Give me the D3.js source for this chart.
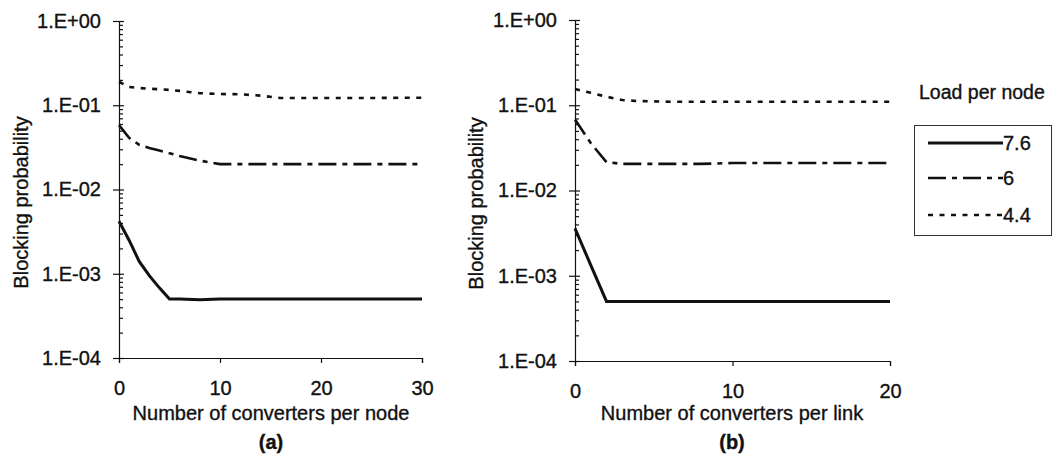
<!DOCTYPE html>
<html>
<head>
<meta charset="utf-8">
<script src="https://cdn.jsdelivr.net/npm/d3@7"></script>
<style>
  body { margin: 0; background: #fff; }
  text { font-family: "Liberation Sans", Arial, sans-serif; fill: #111; stroke: #111; stroke-width: 0.35px; }
</style>
</head>
<body>
<div id="app"></div>
<script>
// panel (a): converters per node
const xA = [0, 1, 2, 3, 4, 5, 6, 8, 10, 12, 14, 16, 18, 20, 25, 30];
const a76 = [0.0042, 0.0025, 0.0014, 0.00095, 0.00068, 0.0005, 0.0005, 0.00049, 0.0005, 0.0005, 0.0005, 0.0005, 0.0005, 0.0005, 0.0005, 0.0005];
const a60 = [0.058, 0.041, 0.034, 0.031, 0.029, 0.027, 0.025, 0.022, 0.020, 0.020, 0.020, 0.020, 0.020, 0.020, 0.020, 0.020];
const a44 = [0.19, 0.165, 0.16, 0.157, 0.155, 0.152, 0.148, 0.139, 0.136, 0.135, 0.13, 0.122, 0.122, 0.122, 0.122, 0.123];

// panel (b): converters per link
const xB = [0, 1, 2, 3, 4, 5, 6, 8, 10, 12, 14, 16, 18, 20];
const b76 = [0.0036, 0.00133, 0.0005, 0.0005, 0.0005, 0.0005, 0.0005, 0.0005, 0.0005, 0.0005, 0.0005, 0.0005, 0.0005, 0.0005];
const b60 = [0.068, 0.036, 0.0215, 0.0205, 0.0205, 0.0205, 0.0205, 0.0205, 0.021, 0.021, 0.021, 0.021, 0.021, 0.021];
const b44 = [0.155, 0.14, 0.126, 0.115, 0.112, 0.111, 0.11, 0.11, 0.11, 0.11, 0.11, 0.11, 0.11, 0.11];

const yTicks = [1, 0.1, 0.01, 0.001, 0.0001];
const loads = ["7.6", "6", "4.4"];
const dashes = [null, "18,6,5,6", "5,6.5"];

const svg = d3.select('#app').append('svg')
  .attr('width', 1054)
  .attr('height', 454);

function panel(box, xs, series, xMax, xTicks, xTitle, tag) {
  const x = d3.scaleLinear().domain([0, xMax]).range([box.left, box.right]);
  const y = d3.scaleLog().domain([1e-4, 1]).range([box.bottom, box.top]);
  const g = svg.append('g');

  // minor log ticks on the inside of the axis
  const minor = [];
  for (let e = -4; e < 0; e++) {
    for (let m = 2; m <= 9; m++) minor.push(m * Math.pow(10, e));
  }
  g.append('g')
    .attr('transform', `translate(${box.left},0)`)
    .call(d3.axisRight(y).tickValues(minor).tickSize(4).tickFormat(''))
    .call(s => s.select('.domain').remove());
  g.append('g')
    .attr('transform', `translate(${box.left},0)`)
    .call(d3.axisRight(y).tickValues(yTicks).tickSize(5).tickFormat(''))
    .call(s => s.select('.domain').remove());

  const yAxis = g.append('g')
    .attr('transform', `translate(${box.left},0)`)
    .call(d3.axisLeft(y).tickValues(yTicks).tickSize(6).tickPadding(12)
      .tickFormat(d => '1.E' + (d >= 1 ? '+00' : '-0' + Math.round(-Math.log10(d)))));
  yAxis.selectAll('text').attr('font-size', 20);

  const xAxis = g.append('g')
    .attr('transform', `translate(0,${box.bottom})`)
    .call(d3.axisBottom(x).tickValues(xTicks).tickSize(5).tickPadding(18).tickFormat(d3.format('d')));
  xAxis.selectAll('text').attr('font-size', 20);

  g.selectAll('.domain, .tick line').attr('stroke', '#111').attr('stroke-width', 1.2);

  const line = d3.line().x(d => x(d[0])).y(d => y(d[1]));
  series.forEach((vals, i) => {
    g.append('path')
      .datum(xs.map((v, k) => [v, vals[k]]))
      .attr('d', line)
      .attr('fill', 'none')
      .attr('stroke', '#111')
      .attr('stroke-width', i === 0 ? 3 : 2.6)
      .attr('stroke-dasharray', dashes[i]);
  });

  g.append('text')
    .attr('transform', `translate(${box.titleX},${(box.top + box.bottom) / 2 + 13}) rotate(-90)`)
    .attr('text-anchor', 'middle')
    .attr('font-size', 20)
    .text('Blocking probability');

  g.append('text')
    .attr('x', box.xTitleC)
    .attr('y', 420)
    .attr('text-anchor', 'middle')
    .attr('font-size', 20)
    .text(xTitle);

  g.append('text')
    .attr('x', box.xTitleC)
    .attr('y', 449)
    .attr('text-anchor', 'middle')
    .attr('font-size', 20)
    .attr('font-weight', 'bold')
    .text(tag);
}

panel({ left: 119, right: 422, top: 21, bottom: 358, titleX: 28, xTitleC: 271 },
  xA, [a76, a60, a44], 30, [0, 10, 20, 30], 'Number of converters per node', '(a)');
panel({ left: 575, right: 890, top: 20, bottom: 361, titleX: 483, xTitleC: 732 },
  xB, [b76, b60, b44], 20, [0, 10, 20], 'Number of converters per link', '(b)');

// legend
const lg = svg.append('g');
lg.append('text')
  .attr('x', 919).attr('y', 99)
  .attr('font-size', 19.5)
  .text('Load per node');
lg.append('rect')
  .attr('x', 914.5).attr('y', 125.5)
  .attr('width', 137).attr('height', 110)
  .attr('fill', 'none')
  .attr('stroke', '#333')
  .attr('stroke-width', 1);
const rowY = [143, 178, 215];
loads.forEach((name, i) => {
  lg.append('line')
    .attr('x1', 928).attr('x2', 1003)
    .attr('y1', rowY[i]).attr('y2', rowY[i])
    .attr('stroke', '#111')
    .attr('stroke-width', i === 0 ? 3 : 2.6)
    .attr('stroke-dasharray', dashes[i]);
  lg.append('text')
    .attr('x', 1003).attr('y', rowY[i] + 7)
    .attr('font-size', 20)
    .text(name);
});
</script>
</body>
</html>
